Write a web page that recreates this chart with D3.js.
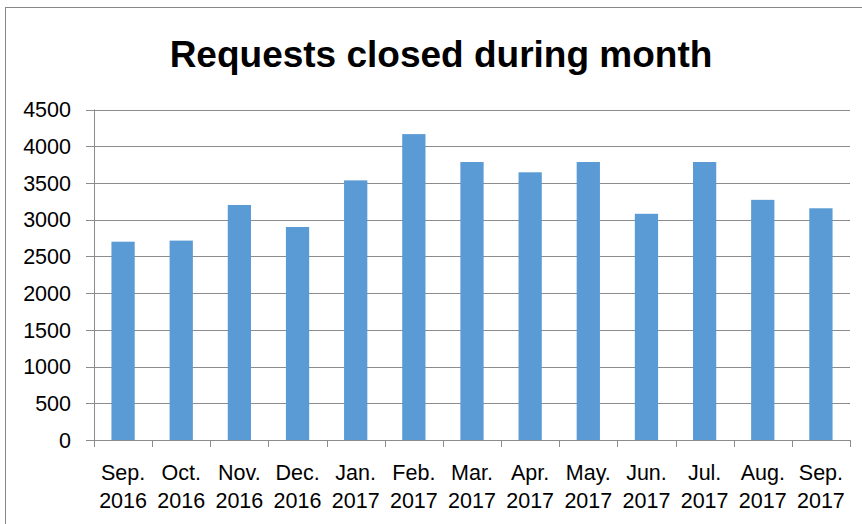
<!DOCTYPE html>
<html>
<head>
<meta charset="utf-8">
<script src="https://cdn.jsdelivr.net/npm/d3@7"></script>
<style>
  body { margin: 0; background: #fff; }
  text { font-family: "Liberation Sans", Arial, sans-serif; fill: #000; }
</style>
</head>
<body>
<div id="chart"></div>
<script>
// months shown on the x axis (two lines each)
var months = ["Sep.", "Oct.", "Nov.", "Dec.", "Jan.", "Feb.", "Mar.", "Apr.", "May.", "Jun.", "Jul.", "Aug.", "Sep."];
var years = ["2016", "2016", "2016", "2016", "2017", "2017", "2017", "2017", "2017", "2017", "2017", "2017", "2017"];
var requestsClosed = [2700, 2715, 3200, 2900, 3535, 4165, 3785, 3645, 3785, 3080, 3785, 3270, 3155];
var yTicks = [0, 500, 1000, 1500, 2000, 2500, 3000, 3500, 4000, 4500];

var width = 862, height = 524;
var plotLeft = 94, plotRight = 850, plotTop = 109.5, plotBottom = 440;

var svg = d3.select("#chart")
    .append("svg")
    .attr("width", width)
    .attr("height", height);

// chart frame
svg.append("rect")
    .attr("x", 5.5).attr("y", 7.5)
    .attr("width", 870).attr("height", 530)
    .attr("fill", "none")
    .attr("stroke", "#878787");

var x = d3.scaleBand()
    .domain(d3.range(months.length))
    .range([plotLeft, plotRight])
    .paddingInner(0.6)
    .paddingOuter(0.3);

var y = d3.scaleLinear()
    .domain([0, 4500])
    .range([plotBottom, plotTop]);

// gridlines
svg.append("g")
    .selectAll("line")
    .data(yTicks)
    .enter().append("line")
    .attr("x1", plotLeft - 8)
    .attr("x2", plotRight)
    .attr("y1", function (d) { return Math.round(y(d)) + 0.5; })
    .attr("y2", function (d) { return Math.round(y(d)) + 0.5; })
    .attr("stroke", "#8c8c8c")
    .attr("stroke-width", 1);

// y axis line
svg.append("line")
    .attr("x1", plotLeft + 0.5).attr("x2", plotLeft + 0.5)
    .attr("y1", plotTop).attr("y2", plotBottom)
    .attr("stroke", "#8c8c8c");

// y labels
svg.append("g")
    .selectAll("text")
    .data(yTicks)
    .enter().append("text")
    .attr("x", 71)
    .attr("y", function (d) { return y(d); })
    .attr("dy", "0.36em")
    .attr("text-anchor", "end")
    .style("font-size", "21.5px")
    .text(function (d) { return d; });

// x tick marks at category boundaries
var step = (plotRight - plotLeft) / months.length;
svg.append("g")
    .selectAll("line")
    .data(d3.range(months.length + 1))
    .enter().append("line")
    .attr("x1", function (i) { return Math.round(plotLeft + i * step) + 0.5; })
    .attr("x2", function (i) { return Math.round(plotLeft + i * step) + 0.5; })
    .attr("y1", plotBottom)
    .attr("y2", plotBottom + 7)
    .attr("stroke", "#8c8c8c");

// bars
svg.append("g")
    .selectAll("rect")
    .data(requestsClosed)
    .enter().append("rect")
    .attr("x", function (d, i) { return x(i); })
    .attr("y", function (d) { return y(d); })
    .attr("width", x.bandwidth())
    .attr("height", function (d) { return plotBottom - y(d); })
    .attr("fill", "#5b9bd5");

// x labels
var xl = svg.append("g")
    .selectAll("text")
    .data(months)
    .enter().append("text")
    .attr("text-anchor", "middle")
    .style("font-size", "21.5px");
xl.append("tspan")
    .attr("x", function (d, i) { return x(i) + x.bandwidth() / 2; })
    .attr("y", 480)
    .text(function (d) { return d; });
xl.append("tspan")
    .attr("x", function (d, i) { return x(i) + x.bandwidth() / 2; })
    .attr("y", 508)
    .text(function (d, i) { return years[i]; });

// title
svg.append("text")
    .attr("x", 441)
    .attr("y", 67)
    .attr("text-anchor", "middle")
    .style("font-size", "37px")
    .style("font-weight", "bold")
    .text("Requests closed during month");
</script>
</body>
</html>
